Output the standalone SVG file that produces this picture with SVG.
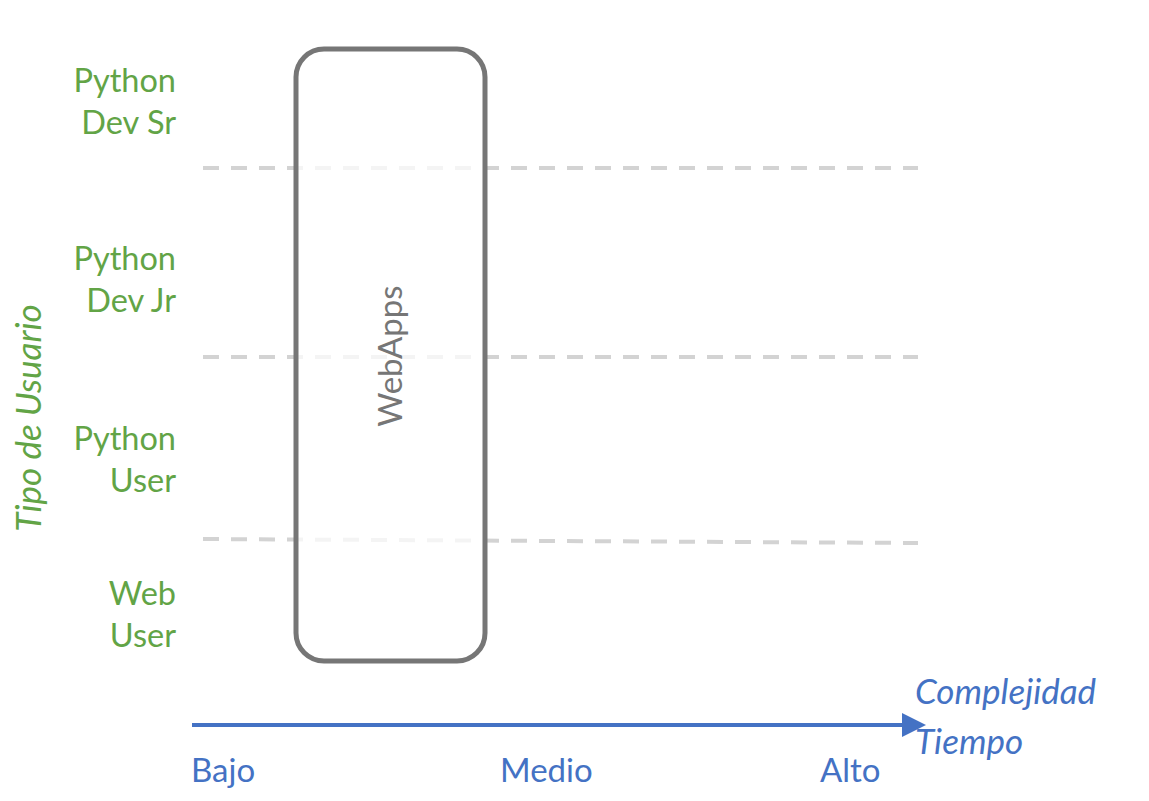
<svg xmlns="http://www.w3.org/2000/svg" width="1149" height="801" viewBox="0 0 1149 801">
<style>
.lbl{font-family:Lato,"Open Sans",sans-serif;font-size:32.5px;fill:#62a446;text-anchor:end}
.ax{font-family:Lato,"Open Sans",sans-serif;font-size:33px;fill:#4472c4}
.it{font-size:35px;font-style:italic}
.grid{stroke:#d3d3d3;stroke-width:4;stroke-dasharray:16 12;fill:none}
</style>
<defs>
<marker id="arr" markerWidth="6" markerHeight="6" refX="1" refY="3" orient="auto" markerUnits="strokeWidth">
<path d="M0,0 L6,3 L0,6 Z" fill="#4472c4"/>
</marker>
</defs>
<rect width="1149" height="801" fill="#fff"/>
<g id="connectors">
<line class="grid" x1="203" y1="168" x2="918" y2="168"/>
<line class="grid" x1="203" y1="357" x2="918" y2="357"/>
<line class="grid" x1="203" y1="539" x2="918" y2="543"/>
<line x1="192" y1="725" x2="906" y2="725" stroke="#4472c4" stroke-width="4" marker-end="url(#arr)"/>
</g>
<g id="labels">
<text class="lbl" x="176" y="92">Python</text>
<text class="lbl" x="176" y="134">Dev Sr</text>
<text class="lbl" x="176" y="270">Python</text>
<text class="lbl" x="176" y="312">Dev Jr</text>
<text class="lbl" x="176" y="450">Python</text>
<text class="lbl" x="176" y="492">User</text>
<text class="lbl" x="176" y="605">Web</text>
<text class="lbl" x="176" y="647">User</text>
<text x="41" y="418" transform="rotate(-90 41 418)" text-anchor="middle" style="font-family:Lato,'Open Sans',sans-serif;font-size:35px;font-style:italic;fill:#62a446">Tipo de Usuario</text>
</g>
<g id="webapps">
<rect x="296" y="49" width="189" height="612" rx="28" fill="#fff" fill-opacity="0.75" stroke="#767676" stroke-width="5"/>
<text x="402" y="356" transform="rotate(-90 402 356)" text-anchor="middle" style="font-family:Lato,'Open Sans',sans-serif;font-size:33px;fill:#767676">WebApps</text>
</g>
<g id="axis-labels">
<text class="ax it" x="915" y="704">Complejidad</text>
<text class="ax it" x="915" y="754">Tiempo</text>
<text class="ax" x="191" y="782">Bajo</text>
<text class="ax" x="500" y="782">Medio</text>
<text class="ax" x="820" y="782">Alto</text>
</g>
</svg>
